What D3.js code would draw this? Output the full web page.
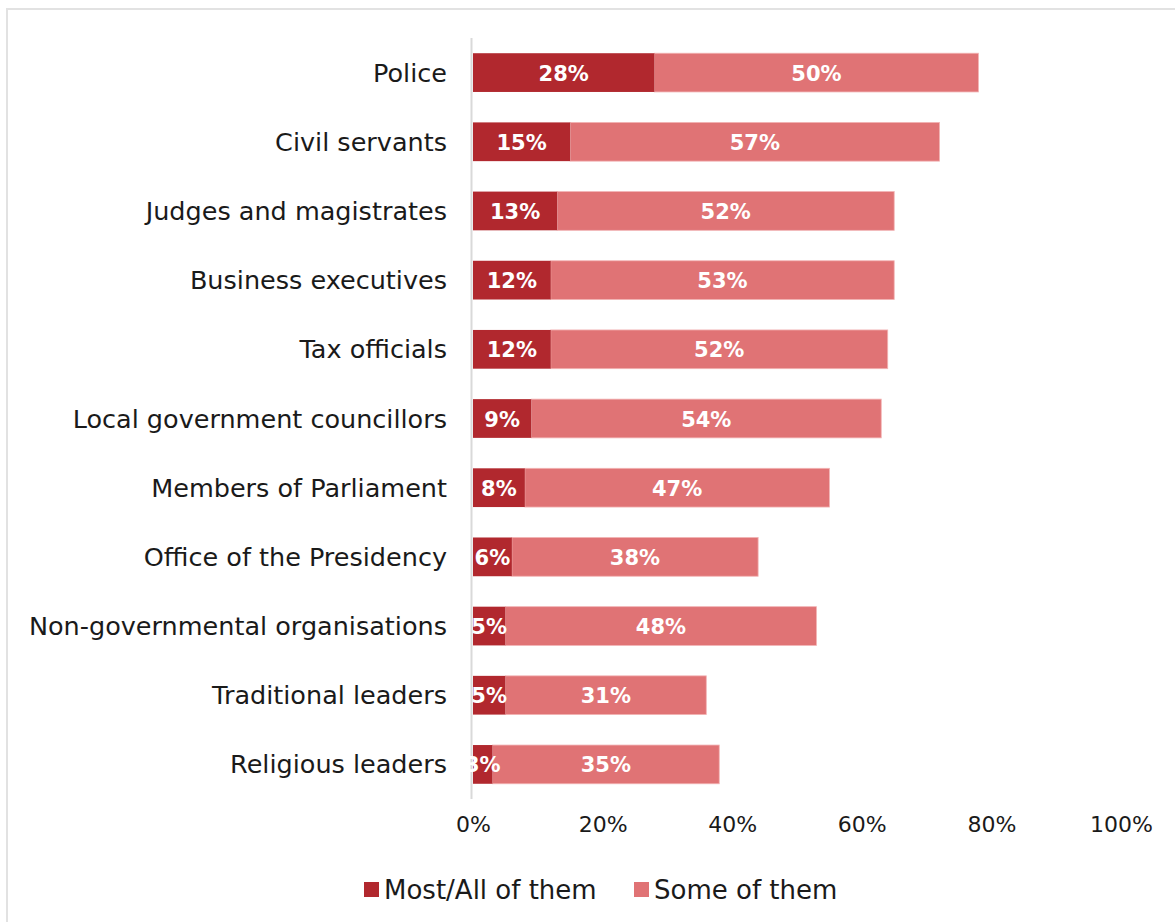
<!DOCTYPE html>
<html>
<head>
	<title>Stacked bars</title>
	<script src="https://d3js.org/d3.v7.min.js"></script>
	<style>
		body { margin: 0; background: #fff; }
		text { font-family: "DejaVu Sans", sans-serif; }
		.cat { font-size: 25.5px; fill: #1a1a1a; }
		.tick text { font-size: 22px; fill: #1a1a1a; }
		.val { font-size: 21px; font-weight: bold; fill: #fff; }
		.leg { font-size: 26px; fill: #1a1a1a; }
	</style>
</head>

<body>
<svg width="1175" height="922"></svg>

<script type="text/javascript">
var width = 1175, height = 922;

var categories = ["Police", "Civil servants", "Judges and magistrates", "Business executives",
	"Tax officials", "Local government councillors", "Members of Parliament",
	"Office of the Presidency", "Non-governmental organisations", "Traditional leaders",
	"Religious leaders"];
var mostAll = [28, 15, 13, 12, 12, 9, 8, 6, 5, 5, 3];
var some = [50, 57, 52, 53, 52, 54, 47, 38, 48, 31, 35];
var ticks = [0, 20, 40, 60, 80, 100];
var seriesNames = ["Most/All of them", "Some of them"];
var colors = ["#b1282e", "#e07375"];

var svg = d3.select('svg');

// frame
svg.append('rect')
	.attr('x', 7).attr('y', 9)
	.attr('width', 1200).attr('height', 1000)
	.attr('fill', 'none')
	.attr('stroke', '#e2e2e2')
	.attr('stroke-width', 2);

var x = d3.scaleLinear().domain([0, 100]).range([473, 1121]);
var y = d3.scaleBand().domain(categories).range([38, 799])
	.paddingInner(0.44).paddingOuter(0.22);

var rows = categories.map(function(c, i) {
	return {cat: c, a: mostAll[i], b: some[i]};
});

// light segments
svg.selectAll('rect.some')
	.data(rows)
	.enter()
	.append('rect')
	.attr('class', 'some')
	.attr('x', function(d) { return x(d.a); })
	.attr('y', function(d) { return y(d.cat); })
	.attr('width', function(d) { return x(d.a + d.b) - x(d.a); })
	.attr('height', y.bandwidth())
	.attr('fill', colors[1])
	.attr('stroke', '#f2b3b4')
	.attr('stroke-width', 0.8);

svg.selectAll('rect.most')
	.data(rows)
	.enter()
	.append('rect')
	.attr('class', 'most')
	.attr('x', x(0))
	.attr('y', function(d) { return y(d.cat); })
	.attr('width', function(d) { return x(d.a) - x(0); })
	.attr('height', y.bandwidth())
	.attr('fill', colors[0]);

// axis line
svg.append('line')
	.attr('x1', x(0) - 1.5).attr('x2', x(0) - 1.5)
	.attr('y1', 38).attr('y2', 799)
	.attr('stroke', '#d9d9d9')
	.attr('stroke-width', 2);

// value labels
svg.selectAll('text.va')
	.data(rows)
	.enter()
	.append('text')
	.attr('class', 'val')
	.attr('text-anchor', 'middle')
	.attr('x', function(d) { return (x(0) + x(d.a)) / 2; })
	.attr('y', function(d) { return y(d.cat) + y.bandwidth() / 2 + 8; })
	.text(function(d) { return d.a + '%'; });

svg.selectAll('text.vb')
	.data(rows)
	.enter()
	.append('text')
	.attr('class', 'val')
	.attr('text-anchor', 'middle')
	.attr('x', function(d) { return (x(d.a) + x(d.a + d.b)) / 2; })
	.attr('y', function(d) { return y(d.cat) + y.bandwidth() / 2 + 8; })
	.text(function(d) { return d.b + '%'; });

// category labels
svg.selectAll('text.cat')
	.data(categories)
	.enter()
	.append('text')
	.attr('class', 'cat')
	.attr('text-anchor', 'end')
	.attr('x', 447)
	.attr('y', function(d) { return y(d) + y.bandwidth() / 2 + 9; })
	.text(function(d) { return d; });

// x axis
var xAxis = d3.axisBottom(x)
	.tickValues(ticks)
	.tickSize(0)
	.tickPadding(0)
	.tickFormat(function(d) { return d + '%'; });

svg.append('g')
	.attr('transform', 'translate(0,816)')
	.call(xAxis)
	.call(function(g) { g.select('.domain').remove(); })
	.selectAll('text')
	.attr('dy', '0.71em')
	.attr('font-family', null)
	.attr('font-size', null);

// legend
var legX = [364, 634];
var leg = svg.selectAll('g.leg')
	.data(seriesNames)
	.enter()
	.append('g')
	.attr('transform', function(d, i) { return 'translate(' + legX[i] + ',882)'; });

leg.append('rect')
	.attr('width', 15).attr('height', 15)
	.attr('fill', function(d, i) { return colors[i]; });

leg.append('text')
	.attr('class', 'leg')
	.attr('x', 20)
	.attr('y', 17)
	.text(function(d) { return d; });

</script>

</body>
</html>
